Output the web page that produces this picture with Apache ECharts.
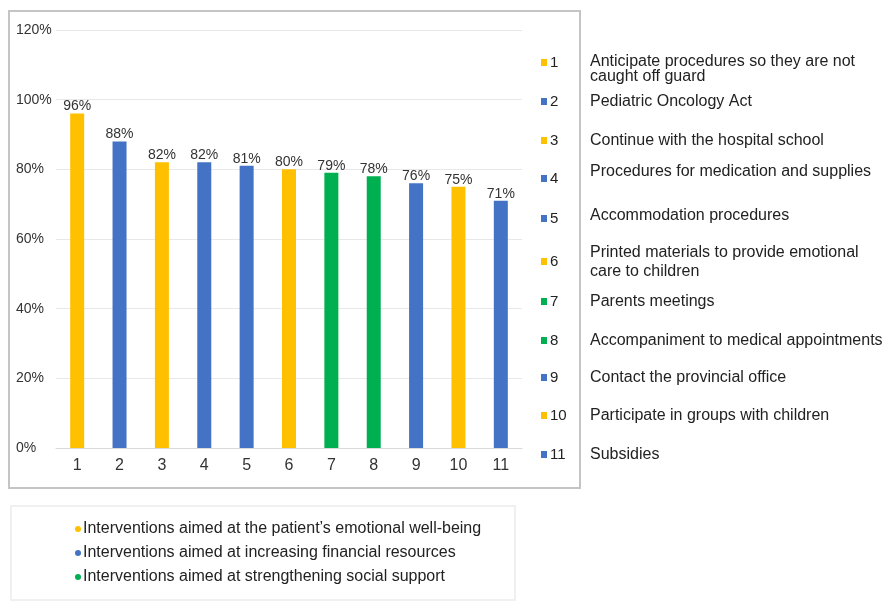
<!DOCTYPE html>
<html><head><meta charset="utf-8">
<script src="https://cdn.jsdelivr.net/npm/echarts@6/dist/echarts.min.js"></script>
<style>html,body{margin:0;padding:0;background:#fff}#c{width:890px;height:609px}</style>
</head><body><div id="c"></div>
<script>
var categories = ['1','2','3','4','5','6','7','8','9','10','11'];
var values = [96, 88, 82, 82, 81, 80, 79, 78, 76, 75, 71];
var groups = [0, 1, 0, 1, 1, 0, 2, 2, 1, 0, 1];
var groupNames = [
  'Interventions aimed at the patient\u2019s emotional well-being',
  'Interventions aimed at increasing financial resources',
  'Interventions aimed at strengthening social support'
];
var itemNames = [
  'Anticipate procedures so they are not\ncaught off guard',
  'Pediatric Oncology Act',
  'Continue with the hospital school',
  'Procedures for medication and supplies',
  'Accommodation procedures',
  'Printed materials to provide emotional\ncare to children',
  'Parents meetings',
  'Accompaniment to medical appointments',
  'Contact the provincial office',
  'Participate in groups with children',
  'Subsidies'
];
var yTicks = [0, 20, 40, 60, 80, 100, 120];
var colors = ['#FFC000', '#4472C4', '#00B050'];
var FONT = '"Liberation Sans", Arial, sans-serif';

var series = groupNames.map(function (name, g) {
  return {
    name: name,
    type: 'bar',
    barWidth: 14,
    barGap: '-100%',
    itemStyle: { color: colors[g] },
    label: { show: true, position: 'top', distance: 0, formatter: '{c}%', color: '#333', fontSize: 14, fontFamily: FONT },
    data: values.map(function (v, i) { return groups[i] === g ? v : null; })
  };
});

var graphic = [
  { type: 'rect', shape: { x: 9, y: 11, width: 571, height: 477 }, style: { fill: 'none', stroke: '#c4c4c4', lineWidth: 2 }, z: -1 },
  { type: 'rect', shape: { x: 11, y: 506, width: 504, height: 94 }, style: { fill: 'none', stroke: '#f0f0f0', lineWidth: 2 }, z: -1 }
];
var rowY = [63, 102, 141, 179, 219, 262, 302, 341, 378, 416, 455];
categories.forEach(function (c, i) {
  var y = rowY[i];
  graphic.push({ type: 'rect', shape: { x: 541, y: y - 4, width: 6, height: 7 }, style: { fill: colors[groups[i]] } });
  graphic.push({ type: 'text', x: 550, y: y, style: { text: c, fontSize: 15, fontFamily: FONT, fill: '#222', verticalAlign: 'middle' } });
  var ty = y;
  if (i === 0) ty = y + 6;
  if (i === 3) ty = y - 7;
  if (i === 4) ty = y - 3;
  graphic.push({ type: 'text', x: 590, y: ty, style: { text: itemNames[i], fontSize: 16, lineHeight: i === 0 ? 15 : 19, fontFamily: FONT, fill: '#222', verticalAlign: 'middle' } });
});

var chart = echarts.init(document.getElementById('c'));
chart.setOption({
  animation: false,
  backgroundColor: '#fff',
  grid: { left: 56, right: 368, top: 30, bottom: 161 },
  xAxis: {
    type: 'category', data: categories,
    axisLine: { show: true, lineStyle: { color: '#d9d9d9' } },
    axisTick: { show: false },
    axisLabel: { color: '#333', fontSize: 16, fontFamily: FONT, margin: 10 }
  },
  yAxis: {
    type: 'value', min: yTicks[0], max: yTicks[yTicks.length - 1], interval: 20,
    axisLine: { show: false }, axisTick: { show: false },
    splitLine: { lineStyle: { color: '#e8e8e8' } },
    axisLabel: { formatter: '{value}%', color: '#333', fontSize: 14, fontFamily: FONT, align: 'left', margin: 40, padding: [6, 0, 0, 0] }
  },
  legend: {
    orient: 'vertical', left: 70, top: 516, itemGap: 8,
    icon: 'circle', itemWidth: 6, itemHeight: 6,
    textStyle: { color: '#222', fontSize: 16, fontFamily: FONT, padding: [0, 0, 0, -3] },
    data: groupNames
  },
  series: series,
  graphic: graphic
});
</script></body></html>
